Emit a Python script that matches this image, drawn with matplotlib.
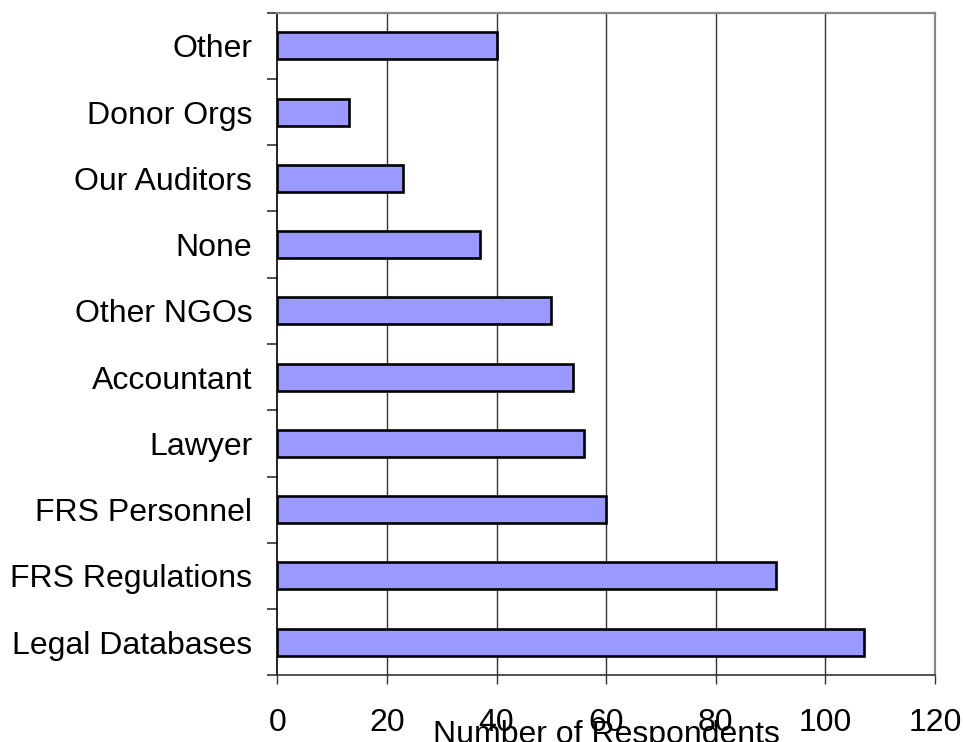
import matplotlib
matplotlib.use("Agg")
import matplotlib.pyplot as plt
import numpy as np

categories = ["Legal Databases", "FRS Regulations", "FRS Personnel", "Lawyer",
              "Accountant", "Other NGOs", "None", "Our Auditors", "Donor Orgs", "Other"]
values = [107, 91, 60, 56, 54, 50, 37, 23, 13, 40]
x_ticks = [0, 20, 40, 60, 80, 100, 120]
x_label = "Number of Respondents"

plt.rcParams['font.family'] = ['Liberation Sans', 'DejaVu Sans']

fig = plt.figure(figsize=(9.63, 7.42), dpi=100)
ax = fig.add_axes([277.3/963, 1-675.3/742, (935-277.3)/963, (675.3-12.7)/742])

y = np.arange(len(categories))
ax.barh(y, values, height=0.41, color='#9999FF', edgecolor='black', linewidth=1.9, zorder=3)

ax.set_xlim(0, 120)
ax.set_ylim(-0.5, len(categories) - 0.5)
ax.set_xticks(x_ticks)
ax.set_xticklabels([str(t) for t in x_ticks], fontsize=23)
ax.set_yticks(y)
ax.set_yticklabels(categories, fontsize=23)
ax.set_yticks(np.arange(-0.5, len(categories)), minor=True)
ax.tick_params(axis='y', which='major', length=0, pad=18)
ax.tick_params(axis='y', which='minor', length=7, width=1.2, color='#333333')
ax.tick_params(axis='x', which='major', length=6.5, width=1, color='#333333', pad=17)

for xv in x_ticks[1:-1]:
    ax.axvline(xv, color='#333333', linewidth=1.0, zorder=1)

for s in ['top', 'right']:
    ax.spines[s].set_color('#888888')
    ax.spines[s].set_linewidth(1.6)
ax.spines['left'].set_color('black')
ax.spines['left'].set_linewidth(1.2)
ax.spines['bottom'].set_color('#333333')
ax.spines['bottom'].set_linewidth(1.2)

ax.set_xlabel(x_label, fontsize=23, labelpad=-13)

fig.savefig("out.png", dpi=100)
